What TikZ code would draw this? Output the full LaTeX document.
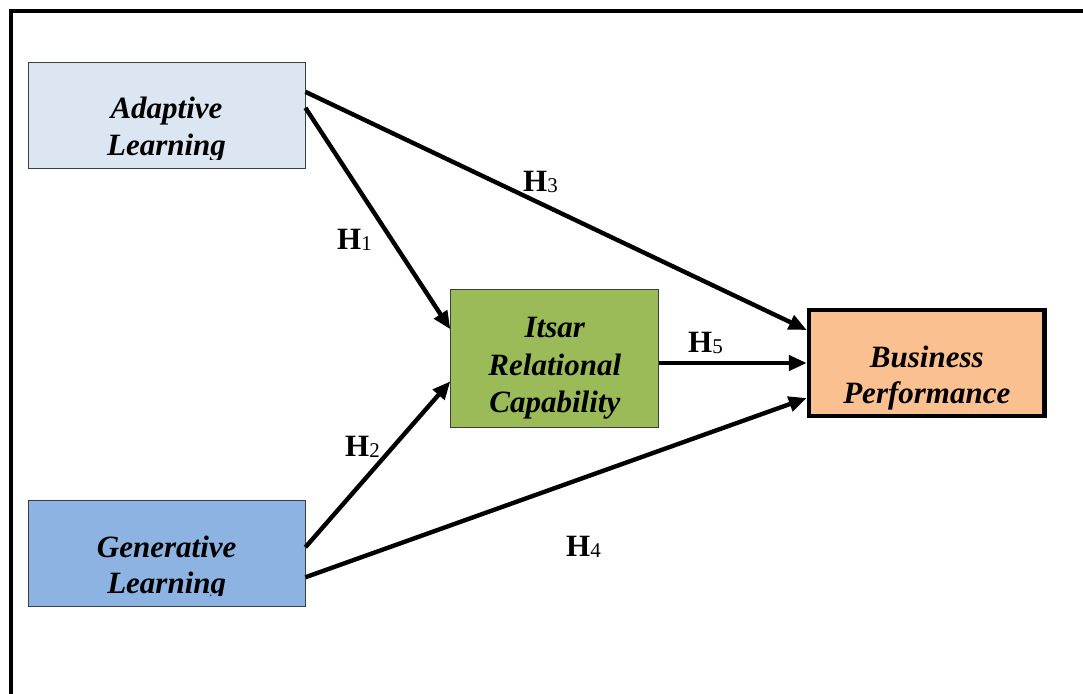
\documentclass[tikz,border=0pt]{standalone}
\usepackage{fontspec}
\setmainfont{Liberation Serif}
\usetikzlibrary{arrows.meta,calc}
\definecolor{adfill}{HTML}{DCE6F2}
\definecolor{glfill}{HTML}{8DB3E2}
\definecolor{ircfill}{HTML}{9BBB59}
\definecolor{bpfill}{HTML}{FAC090}
\definecolor{thinborder}{HTML}{3A3F44}
\tikzset{
  box/.style={rectangle, inner sep=0pt, line width=0.9pt, draw=thinborder},
  boxtext/.style={align=center, inner sep=0pt, font=\fontsize{31}{37}\selectfont\bfseries\itshape},
  link/.style={line width=4.4pt, -{Triangle[length=18pt,width=15pt]}},
  hyp/.style={anchor=base west, inner sep=0pt, font=\fontsize{31}{31}\selectfont\bfseries},
}
\newcommand{\hsub}[1]{H{\fontsize{21}{21}\selectfont\mdseries\raisebox{-1pt}{#1}}}
\begin{document}
\begin{tikzpicture}[x=1pt,y=-1pt]
\useasboundingbox (0,0) rectangle (1083,693);
\clip (0,0) rectangle (1083,693);
\fill[white] (0,0) rectangle (1083,693);
\draw[line width=4.5pt] (11,11) rectangle (1110,720);

% boxes
\node[box, fill=adfill, minimum width=277pt, minimum height=106pt] (ad) at (166.5,115.3) {};
\node[box, fill=glfill, minimum width=276.5pt, minimum height=106pt] (gl) at (166.7,553.7) {};
\node[box, fill=ircfill, minimum width=208pt, minimum height=138pt] (irc) at (554.8,358.3) {};
\node[box, fill=bpfill, draw=black, line width=4.5pt, minimum width=235.5pt, minimum height=106pt] (bp) at (926.8,363) {};

% box texts (bottom line clipped as in the original)
\begin{scope}
  \clip (ad.north west) rectangle ($(ad.east |- 0,159)$);
  \node[boxtext, anchor=base] (adt1) at (166.5,118) {Adaptive};
  \node[boxtext, anchor=base] (adt2) at (166.5,155) {Learning};
\end{scope}
\begin{scope}
  \clip (gl.north west) rectangle ($(gl.east |- 0,595)$);
  \node[boxtext, anchor=base] (glt1) at (166.7,557) {Generative};
  \node[boxtext, anchor=base] (glt2) at (166.7,593) {Learning};
\end{scope}
\node[boxtext, anchor=base] (irct1) at (554.8,337) {Itsar};
\node[boxtext, anchor=base] (irct2) at (554.8,375) {Relational};
\node[boxtext, anchor=base] (irct3) at (554.8,412) {Capability};
\node[boxtext, anchor=base] (bpt1) at (926.8,367) {Business};
\node[boxtext, anchor=base] (bpt2) at (926.8,403) {Performance};

% connectors
\draw[link] ($(ad.north east)+(0,30)$) -- ($(bp.west)+(0,-33)$);
\draw[link] ($(ad.north east)+(0,46)$) -- ($(irc.west)+(0,-29)$);
\draw[link] ($(gl.north east)+(0,47)$) -- ($(irc.west)+(0,23)$);
\draw[link] ($(gl.north east)+(0,77)$) -- ($(bp.west)+(0,35)$);
\draw[link] (irc.east |- bp.west) -- (bp.west);

% hypothesis labels
\node[hyp] (h1) at (337,249) {\hsub{1}};
\node[hyp] (h2) at (345,456) {\hsub{2}};
\node[hyp] (h3) at (523,191) {\hsub{3}};
\node[hyp] (h4) at (566,556) {\hsub{4}};
\node[hyp] (h5) at (688,352) {\hsub{5}};
\end{tikzpicture}
\end{document}
